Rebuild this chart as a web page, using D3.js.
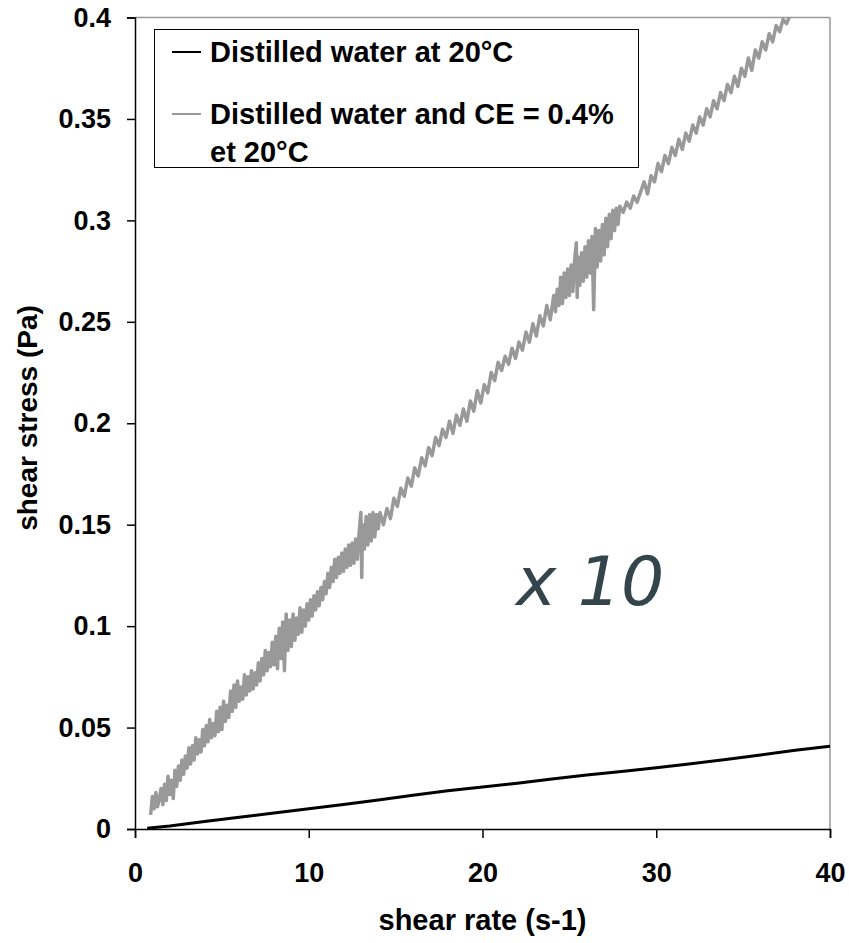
<!DOCTYPE html>
<html>
<head>
<meta charset="utf-8">
<title>Shear stress vs shear rate</title>
<script src="https://cdn.jsdelivr.net/npm/d3@7"></script>
<style>
  body { margin: 0; background: #fff; }
  text { font-family: "Liberation Sans", Arial, sans-serif; }
</style>
</head>
<body>
<script>

// Tick labels for both axes
const xTicks = [0, 10, 20, 30, 40];
const yTicks = [0, 0.05, 0.1, 0.15, 0.2, 0.25, 0.3, 0.35, 0.4];

// Legend entries
const seriesNames = ["Distilled water at 20°C", "Distilled water and CE = 0.4%"];
const seriesNames2 = ["", "et 20°C"];

// Distilled water, shear rate (s-1) vs shear stress (Pa)
const waterData = [
  [0.7, 0.0004], [2, 0.0015], [4, 0.0037], [6, 0.0058], [8, 0.0079],
  [10, 0.0100], [12, 0.0121], [14, 0.0143], [16, 0.0166], [18, 0.0188],
  [20, 0.0207], [22, 0.0226], [24, 0.0246], [26, 0.0266], [28, 0.0283],
  [30, 0.0302], [32, 0.0322], [34, 0.0343], [36, 0.0365], [38, 0.0388],
  [40, 0.0408]
];

// Distilled water + CE 0.4 %
const ceData = [
  [0.9, 0.007], [1.0, 0.016], [1.1, 0.010], [1.2, 0.018], [1.3, 0.011],
  [1.4, 0.015], [1.5, 0.020], [1.6, 0.012], [1.7, 0.022], [1.8, 0.014],
  [1.9, 0.026], [2.0, 0.017], [2.1, 0.024], [2.2, 0.015], [2.3, 0.029],
  [2.4, 0.021], [2.5, 0.031], [2.6, 0.024], [2.7, 0.034], [2.8, 0.027],
  [2.9, 0.036], [3.0, 0.030], [3.1, 0.040], [3.2, 0.032], [3.3, 0.041],
  [3.4, 0.034], [3.5, 0.045], [3.6, 0.037], [3.7, 0.044], [3.8, 0.038],
  [3.9, 0.049], [4.0, 0.041], [4.1, 0.051], [4.2, 0.043], [4.3, 0.054],
  [4.4, 0.045], [4.5, 0.052], [4.6, 0.046], [4.7, 0.058], [4.8, 0.048],
  [4.9, 0.060], [5.0, 0.049], [5.1, 0.063], [5.2, 0.053], [5.3, 0.061],
  [5.4, 0.055], [5.5, 0.068], [5.6, 0.058], [5.7, 0.071], [5.8, 0.060],
  [5.9, 0.073], [6.0, 0.063], [6.1, 0.070], [6.2, 0.064], [6.3, 0.076],
  [6.4, 0.066], [6.5, 0.075], [6.6, 0.068], [6.7, 0.078], [6.8, 0.069],
  [6.9, 0.077], [7.0, 0.071], [7.1, 0.082], [7.2, 0.073], [7.3, 0.084],
  [7.4, 0.076], [7.5, 0.088], [7.6, 0.078], [7.7, 0.087], [7.8, 0.080],
  [7.9, 0.092], [8.0, 0.081], [8.1, 0.095], [8.2, 0.079], [8.3, 0.099],
  [8.4, 0.084], [8.5, 0.102], [8.6, 0.078], [8.7, 0.106], [8.8, 0.088],
  [8.9, 0.103], [9.0, 0.090], [9.1, 0.106], [9.2, 0.093], [9.3, 0.104],
  [9.4, 0.096], [9.5, 0.109], [9.6, 0.097], [9.7, 0.108], [9.8, 0.100],
  [9.9, 0.111], [10.0, 0.103], [10.1, 0.113], [10.2, 0.105], [10.3, 0.115],
  [10.4, 0.108], [10.5, 0.117], [10.6, 0.110], [10.7, 0.119], [10.8, 0.113],
  [10.9, 0.122], [11.0, 0.116], [11.1, 0.126], [11.2, 0.119], [11.3, 0.129],
  [11.4, 0.122], [11.5, 0.133], [11.6, 0.124], [11.7, 0.134], [11.8, 0.126],
  [11.9, 0.136], [12.0, 0.127], [12.1, 0.138], [12.2, 0.129], [12.3, 0.140],
  [12.4, 0.130], [12.5, 0.141], [12.6, 0.131], [12.7, 0.143], [12.8, 0.133],
  [12.9, 0.146], [13.0, 0.156], [13.05, 0.124], [13.1, 0.150], [13.2, 0.138],
  [13.3, 0.154], [13.4, 0.140], [13.5, 0.155], [13.6, 0.142], [13.7, 0.156],
  [13.8, 0.144], [13.9, 0.155], [14.0, 0.148], [14.1, 0.156], [14.3, 0.150],
  [14.5, 0.158], [14.7, 0.153], [14.9, 0.163], [15.1, 0.159], [15.3, 0.168],
  [15.5, 0.164], [15.7, 0.173], [15.9, 0.169], [16.1, 0.178], [16.3, 0.174],
  [16.5, 0.183], [16.7, 0.179], [16.9, 0.188], [17.1, 0.184], [17.3, 0.193],
  [17.5, 0.189], [17.7, 0.197], [17.9, 0.193], [18.1, 0.201], [18.3, 0.195],
  [18.5, 0.204], [18.7, 0.199], [18.9, 0.207], [19.1, 0.201], [19.3, 0.211],
  [19.5, 0.206], [19.7, 0.216], [19.9, 0.210], [20.1, 0.219], [20.3, 0.215],
  [20.5, 0.225], [20.7, 0.221], [20.9, 0.230], [21.1, 0.226], [21.3, 0.233],
  [21.5, 0.229], [21.7, 0.237], [21.9, 0.232], [22.1, 0.240], [22.3, 0.236],
  [22.5, 0.245], [22.7, 0.240], [22.9, 0.249], [23.1, 0.243], [23.3, 0.253],
  [23.5, 0.248], [23.7, 0.258], [23.9, 0.251], [24.1, 0.263], [24.2, 0.255],
  [24.3, 0.266], [24.4, 0.258], [24.5, 0.272], [24.6, 0.259], [24.7, 0.274],
  [24.8, 0.262], [24.9, 0.276], [25.0, 0.263], [25.1, 0.278], [25.2, 0.265],
  [25.3, 0.280], [25.4, 0.289], [25.45, 0.262], [25.5, 0.282], [25.6, 0.268],
  [25.7, 0.284], [25.8, 0.270], [25.9, 0.287], [26.0, 0.272], [26.1, 0.290],
  [26.2, 0.274], [26.3, 0.292], [26.4, 0.256], [26.5, 0.296], [26.6, 0.277],
  [26.7, 0.295], [26.8, 0.280], [26.9, 0.298], [27.0, 0.283], [27.1, 0.301],
  [27.2, 0.287], [27.3, 0.303], [27.4, 0.291], [27.5, 0.305], [27.6, 0.295],
  [27.7, 0.306], [27.8, 0.298], [27.9, 0.307], [28.1, 0.304], [28.3, 0.309],
  [28.5, 0.306], [28.7, 0.312], [28.9, 0.309], [29.1, 0.314], [29.3, 0.319],
  [29.5, 0.313], [29.7, 0.322], [29.9, 0.319], [30.1, 0.328], [30.3, 0.324],
  [30.5, 0.332], [30.7, 0.328], [30.9, 0.336], [31.1, 0.332], [31.3, 0.340],
  [31.5, 0.335], [31.7, 0.343], [31.9, 0.339], [32.1, 0.347], [32.3, 0.343],
  [32.5, 0.351], [32.7, 0.347], [32.9, 0.355], [33.1, 0.351], [33.3, 0.359],
  [33.5, 0.355], [33.7, 0.363], [33.9, 0.359], [34.1, 0.367], [34.3, 0.363],
  [34.5, 0.371], [34.7, 0.366], [34.9, 0.375], [35.1, 0.371], [35.3, 0.380],
  [35.5, 0.374], [35.7, 0.384], [35.9, 0.380], [36.1, 0.388], [36.3, 0.384],
  [36.5, 0.392], [36.7, 0.388], [36.9, 0.396], [37.1, 0.393], [37.3, 0.399],
  [37.5, 0.397], [37.7, 0.401]
];

// SVG size and plot margins
const w = 849;
const h = 943;
const margin = { top: 17.5, right: 19, bottom: 114, left: 135 };
const innerWidth = w - margin.left - margin.right;
const innerHeight = h - margin.top - margin.bottom;

const svg = d3.select("body")
  .append("svg")
  .attr("width", w)
  .attr("height", h);

const g = svg.append("g")
  .attr("transform", `translate(${margin.left},${margin.top})`);

// Scales
const xScale = d3.scaleLinear()
  .domain([0, 40])
  .range([0, innerWidth]);

const yScale = d3.scaleLinear()
  .domain([0, 0.4])
  .range([innerHeight, 0]);

// Clip the traces to the plot area
svg.append("defs").append("clipPath")
  .attr("id", "plot-clip")
  .append("rect")
  .attr("width", innerWidth)
  .attr("height", innerHeight);

// Grey frame on top and right
g.append("line")
  .attr("x1", 0).attr("x2", innerWidth)
  .attr("y1", 0).attr("y2", 0)
  .attr("stroke", "#999").attr("stroke-width", 1.5);

g.append("line")
  .attr("x1", innerWidth).attr("x2", innerWidth)
  .attr("y1", 0).attr("y2", innerHeight)
  .attr("stroke", "#999").attr("stroke-width", 1.5);

// Axes
const xAxis = g.append("g")
  .attr("class", "xAxis")
  .attr("transform", `translate(0,${innerHeight})`)
  .call(d3.axisBottom(xScale).tickValues(xTicks).tickSize(9).tickPadding(25));

const yAxis = g.append("g")
  .attr("class", "yAxis")
  .call(d3.axisLeft(yScale).tickValues(yTicks).tickSize(8).tickPadding(16)
    .tickFormat(d => String(+d.toFixed(2))));

[xAxis, yAxis].forEach(function(ax) {
  ax.select(".domain").attr("stroke", "#000").attr("stroke-width", 1.5);
  ax.selectAll(".tick line").attr("stroke", "#000").attr("stroke-width", 1.5);
  ax.selectAll(".tick text")
    .attr("fill", "#000")
    .style("font-size", "27px")
    .style("font-weight", "bold")
    .style("font-family", "'Liberation Sans', Arial, sans-serif");
});

// Axis titles
svg.append("text")
  .attr("x", margin.left + innerWidth / 2)
  .attr("y", 930)
  .attr("text-anchor", "middle")
  .style("font-size", "29px")
  .style("font-weight", "bold")
  .text("shear rate (s-1)");

svg.append("text")
  .attr("transform", "translate(37,418) rotate(-90)")
  .attr("text-anchor", "middle")
  .style("font-size", "28px")
  .style("font-weight", "bold")
  .text("shear stress (Pa)");

// Lines
const line = d3.line()
  .x(d => xScale(d[0]))
  .y(d => yScale(d[1]));

const plot = g.append("g").attr("clip-path", "url(#plot-clip)");

plot.append("path")
  .datum(ceData)
  .attr("fill", "none")
  .attr("stroke", "#999")
  .attr("stroke-width", 3.5)
  .attr("stroke-linejoin", "round")
  .attr("d", line);

plot.append("path")
  .datum(waterData)
  .attr("fill", "none")
  .attr("stroke", "#000")
  .attr("stroke-width", 3)
  .attr("d", line);

// Annotation
svg.append("text")
  .attr("x", 516)
  .attr("y", 605)
  .style("font-family", "'DejaVu Sans', Verdana, sans-serif")
  .style("font-style", "italic")
  .style("font-size", "68px")
  .attr("fill", "#33454a")
  .text("x 10");

// Legend
const legend = svg.append("g").attr("class", "legend");

legend.append("rect")
  .attr("x", 154.5).attr("y", 29.5)
  .attr("width", 484).attr("height", 138)
  .attr("fill", "#fff")
  .attr("stroke", "#000")
  .attr("stroke-width", 1);

const legendColors = ["#000", "#999"];
const legendY = [52, 114];

seriesNames.forEach(function(name, i) {
  legend.append("line")
    .attr("x1", 172).attr("x2", 201)
    .attr("y1", legendY[i]).attr("y2", legendY[i])
    .attr("stroke", legendColors[i])
    .attr("stroke-width", 2);

  legend.append("text")
    .attr("x", 210)
    .attr("y", legendY[i] + 10)
    .style("font-size", "29px")
    .style("font-weight", "bold")
    .text(name);

  if (seriesNames2[i]) {
    legend.append("text")
      .attr("x", 210)
      .attr("y", legendY[i] + 48)
      .style("font-size", "29px")
      .style("font-weight", "bold")
      .text(seriesNames2[i]);
  }
});

</script>
</body>
</html>
